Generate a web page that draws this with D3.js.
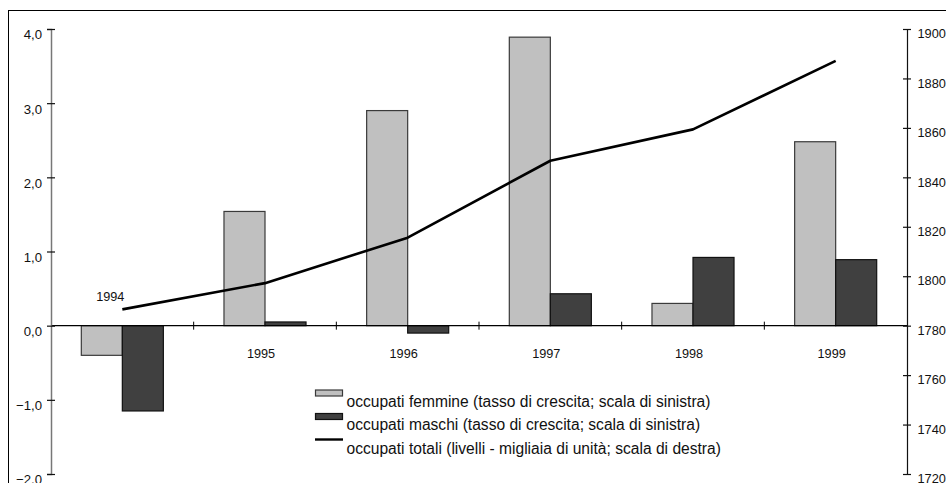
<!DOCTYPE html>
<html>
<head>
<meta charset="utf-8">
<script src="https://cdn.jsdelivr.net/npm/d3@7"></script>
<style>
  html, body { margin: 0; padding: 0; background: #fff; }
  svg { display: block; font-family: "Liberation Sans", Arial, sans-serif; }
</style>
</head>
<body>
<svg id="chart" width="946" height="483"></svg>
<script>
// Occupati: tassi di crescita (scala sinistra) e livelli totali (scala destra)
const years = ["1994", "1995", "1996", "1997", "1998", "1999"];
const femmine = [-0.4, 1.54, 2.9, 3.89, 0.3, 2.48];
const maschi = [-1.15, 0.05, -0.1, 0.43, 0.92, 0.89];
const totali = [1786.6, 1797.2, 1815.6, 1846.7, 1859.4, 1887.1];
const leftTicks = [-2, -1, 0, 1, 2, 3, 4];
const rightTicks = [1720, 1740, 1760, 1780, 1800, 1820, 1840, 1860, 1880, 1900];
const seriesNames = ["femmine", "maschi"];
const legendLabels = [
  "occupati femmine (tasso di crescita; scala di sinistra)",
  "occupati maschi (tasso di crescita; scala di sinistra)",
  "occupati totali (livelli - migliaia di unità; scala di destra)"
];

const svg = d3.select("#chart");
const plot = { left: 51, right: 907, top: 29, bottom: 474 };

const it = d3.formatLocale({ decimal: ",", thousands: ".", grouping: [3], currency: ["", "€"] });
const fmt1 = it.format(".1f");

// outer frame
svg.append("rect")
  .attr("x", 8.5).attr("y", 10.5)
  .attr("width", 960).attr("height", 520)
  .attr("fill", "none").attr("stroke", "#000").attr("stroke-width", 1);

const x0 = d3.scaleBand().domain(years).range([plot.left, plot.right]).padding(0);
const x1 = d3.scaleBand().domain(seriesNames).range([0, x0.bandwidth()])
  .paddingInner(0).paddingOuter(0.739);
const yL = d3.scaleLinear().domain([-2, 4]).range([plot.bottom, plot.top]);
const yR = d3.scaleLinear().domain([1720, 1900]).range([plot.bottom, plot.top]);

const colors = { femmine: "#c0c0c0", maschi: "#404040" };
const strokes = { femmine: "#3a3a3a", maschi: "#111" };

// bars
const data = years.map((y, i) => ({ year: y, femmine: femmine[i], maschi: maschi[i] }));
const groups = svg.append("g").selectAll("g").data(data).join("g")
  .attr("transform", d => `translate(${x0(d.year)},0)`);
groups.selectAll("rect")
  .data(d => seriesNames.map(k => ({ key: k, value: d[k] })))
  .join("rect")
  .attr("x", d => x1(d.key))
  .attr("width", x1.bandwidth())
  .attr("y", d => yL(Math.max(0, d.value)))
  .attr("height", d => Math.abs(yL(d.value) - yL(0)))
  .attr("fill", d => colors[d.key])
  .attr("stroke", d => strokes[d.key])
  .attr("stroke-width", 1.2);

// category axis at zero
const xAxisY = yL(0);
svg.append("line")
  .attr("x1", plot.left).attr("x2", plot.right)
  .attr("y1", xAxisY).attr("y2", xAxisY)
  .attr("stroke", "#000").attr("stroke-width", 1.2);
svg.append("g").selectAll("line").data(years.slice(1)).join("line")
  .attr("x1", d => x0(d)).attr("x2", d => x0(d))
  .attr("y1", xAxisY - 4).attr("y2", xAxisY + 4)
  .attr("stroke", "#000").attr("stroke-width", 1);

// category labels (1994 above the axis, the rest below)
svg.append("g").selectAll("text").data(years).join("text")
  .attr("x", (d, i) => x0(d) + x0.bandwidth() / 2 + (i === 0 ? -12 : -4))
  .attr("y", (d, i) => i === 0 ? xAxisY - 29 : xAxisY + 28)
  .attr("dy", "0.35em")
  .attr("text-anchor", "middle")
  .attr("font-size", 12.7)
  .attr("fill", "#111")
  .text(d => d);

// left axis
const gL = svg.append("g").attr("transform", `translate(${plot.left},0)`)
  .call(d3.axisLeft(yL).tickValues(leftTicks).tickSize(4).tickPadding(9).tickFormat(fmt1));
gL.select(".domain").attr("stroke", "#777").attr("stroke-width", 1.5);
gL.selectAll(".tick line").attr("x1", 4).attr("stroke", "#111").attr("stroke-width", 1.2);
gL.selectAll(".tick text").attr("font-size", 13.2).attr("font-family", "Liberation Sans, Arial, sans-serif")
  .attr("fill", "#111").attr("dy", "0.75em").attr("x", -9);

// right axis
const gR = svg.append("g").attr("transform", `translate(${plot.right},0)`)
  .call(d3.axisRight(yR).tickValues(rightTicks).tickSize(4).tickPadding(7).tickFormat(d3.format("d")));
gR.select(".domain").attr("stroke", "#111").attr("stroke-width", 1.2);
gR.selectAll(".tick line").attr("x1", -4).attr("stroke", "#111").attr("stroke-width", 1.2);
gR.selectAll(".tick text").attr("font-size", 12.8).attr("font-family", "Liberation Sans, Arial, sans-serif")
  .attr("fill", "#111").attr("dy", "0.68em").attr("x", 10.5);

// total employment line
const line = d3.line()
  .x((d, i) => x0(years[i]) + x0.bandwidth() / 2)
  .y(d => yR(d));
svg.append("path")
  .datum(totali)
  .attr("d", line)
  .attr("fill", "none")
  .attr("stroke", "#000")
  .attr("stroke-width", 2.6)
  .attr("stroke-linejoin", "round");

// legend
const lg = svg.append("g").attr("transform", "translate(315,0)");
const rowY = [401.5, 425, 448.5];
["femmine", "maschi"].forEach((k, i) => {
  lg.append("rect")
    .attr("x", 0.5).attr("y", rowY[i] - 11.5)
    .attr("width", 27).attr("height", 6)
    .attr("fill", colors[k]).attr("stroke", strokes[k]).attr("stroke-width", 1.2);
});
lg.append("line")
  .attr("x1", 0).attr("x2", 28)
  .attr("y1", rowY[2] - 9).attr("y2", rowY[2] - 9)
  .attr("stroke", "#000").attr("stroke-width", 2.4);
lg.selectAll("text").data(legendLabels).join("text")
  .attr("x", 31.5)
  .attr("y", (d, i) => rowY[i])
  .attr("dy", "0.35em")
  .attr("font-size", 15.6)
  .attr("fill", "#111")
  .text(d => d);
</script>
</body>
</html>
